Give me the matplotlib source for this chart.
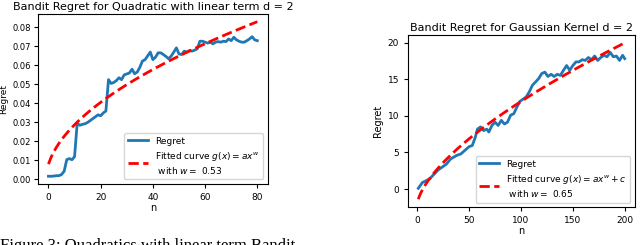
import numpy as np
import matplotlib.pyplot as plt

# left panel: quadratic with linear term, d = 2
quad_n = np.arange(0, 81)
quad_regret = [0.0017, 0.0017, 0.0018, 0.0020, 0.0020, 0.0026, 0.0043, 0.0104, 0.0110, 0.0104,
               0.0120, 0.0296, 0.0285, 0.0290, 0.0293, 0.0300, 0.0310, 0.0320, 0.0330, 0.0340,
               0.0335, 0.0350, 0.0360, 0.0525, 0.0505, 0.0510, 0.0520, 0.0535, 0.0525, 0.0550,
               0.0555, 0.0560, 0.0580, 0.0556, 0.0565, 0.0590, 0.0623, 0.0630, 0.0650, 0.0670,
               0.0630, 0.0643, 0.0666, 0.0666, 0.0657, 0.0647, 0.0635, 0.0649, 0.0670, 0.0692,
               0.0660, 0.0657, 0.0675, 0.0670, 0.0678, 0.0675, 0.0680, 0.0687, 0.0727, 0.0727,
               0.0722, 0.0717, 0.0722, 0.0713, 0.0722, 0.0725, 0.0722, 0.0727, 0.0725, 0.0739,
               0.0730, 0.0748, 0.0734, 0.0727, 0.0722, 0.0722, 0.0730, 0.0739, 0.0751, 0.0734,
               0.0730]
quad_a = 0.00808
quad_w = 0.53

# right panel: gaussian kernel, d = 2
gauss_n = [1, 5, 8, 12, 16, 20, 24, 28, 32, 35, 38, 42, 46, 50, 53, 56, 58, 61, 64, 67,
           69, 72, 75, 78, 81, 84, 87, 90, 93, 96, 99, 102, 105, 108, 111, 114, 117, 120, 123, 126,
           129, 132, 135, 138, 141, 144, 147, 150, 153, 156, 159, 162, 165, 168, 171, 174, 177, 180, 183, 186,
           189, 192, 195, 198, 200]
gauss_regret = [0.1, 0.9, 1.1, 1.4, 2.0, 2.6, 3.0, 3.4, 4.1, 4.35, 4.6, 4.8, 5.3, 5.8, 5.95, 7.1, 8.2, 8.5, 8.0, 8.2,
                7.8, 8.7, 9.15, 8.7, 9.4, 8.9, 9.15, 10.1, 10.3, 11.2, 12.0, 12.3, 12.6, 13.3, 14.2, 14.65, 15.1, 15.8, 16.0, 15.4,
                15.7, 15.4, 15.7, 15.55, 16.25, 16.9, 16.25, 16.9, 17.4, 17.4, 17.7, 17.6, 18.0, 17.7, 18.2, 17.6, 18.0, 18.3, 18.1, 18.7,
                18.1, 18.2, 17.6, 18.3, 17.85]
gauss_a = 0.706
gauss_w = 0.65
gauss_c = -2.1

plt.rcParams['font.size'] = 7
plt.rcParams['xtick.labelsize'] = 6.5
plt.rcParams['ytick.labelsize'] = 6.5
plt.rcParams['xtick.major.size'] = 3
plt.rcParams['ytick.major.size'] = 3

fig = plt.figure(figsize=(6.4, 2.45), dpi=100)

ax1 = fig.add_axes([0.0594, 0.249, 0.359, 0.694])
ax1.plot(quad_n, quad_regret, color='#1f77b4', lw=2, label='Regret')
ax1.plot(quad_n, quad_a * (quad_n + 1) ** quad_w, 'r--', lw=2,
         label='Fitted curve $g(x) = ax^w$\n with $w =$ %.2f' % quad_w)
ax1.set_title('Bandit Regret for Quadratic with linear term d = 2', fontsize=8, pad=3)
ax1.set_xlabel('n', labelpad=1)
ax1.set_ylabel('Regret', fontsize=6.5)
ax1.yaxis.set_label_coords(-0.128, 0.5)
ax1.tick_params(axis='y', labelsize=6, pad=2)
ax1.set_xticks([0, 20, 40, 60, 80])
ax1.set_yticks(np.arange(0, 0.081, 0.01))
ax1.legend(loc='lower right', fontsize=6.5, handlelength=2.2)

gx = np.arange(1, 201)
ax2 = fig.add_axes([0.6375, 0.155, 0.3547, 0.702])
ax2.plot(gauss_n, gauss_regret, color='#1f77b4', lw=2, label='Regret')
ax2.plot(gx, gauss_a * gx ** gauss_w + gauss_c, 'r--', lw=2,
         label='Fitted curve $g(x) = ax^w + c$\n with $w =$ %.2f' % gauss_w)
ax2.set_title('Bandit Regret for Gaussian Kernel d = 2', fontsize=8, pad=3)
ax2.set_xlabel('n', labelpad=1)
ax2.set_ylabel('Regret', labelpad=3)
ax2.set_xticks([0, 50, 100, 150, 200])
ax2.set_yticks([0, 5, 10, 15, 20])
ax2.legend(loc='lower right', fontsize=6.5, handlelength=2.2)

fig.text(0.0, -0.035, 'Figure 3: Quadratics with linear term Bandit',
         family='Liberation Serif', fontsize=12, va='bottom')

fig.savefig('out.png', dpi=100)
